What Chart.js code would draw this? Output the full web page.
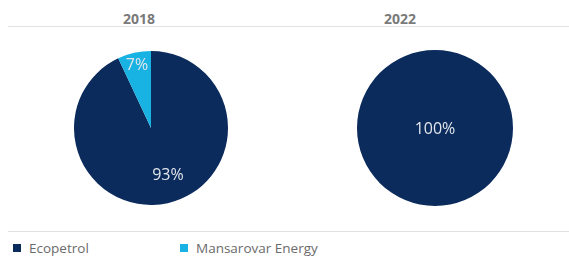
<!DOCTYPE html>
<html>
<head>
<meta charset="utf-8">
<script src="https://cdn.jsdelivr.net/npm/chart.js@4/dist/chart.umd.min.js"></script>
<style>
  body { margin: 0; background: #fff; font-family: "Open Sans", "Noto Sans", sans-serif; }
  #wrap { position: relative; width: 569px; height: 260px; overflow: hidden; }
  .year { position: absolute; top: 9px; font-size: 14px; font-weight: bold; color: #7a7a7a; width: 80px; text-align: center; }
  .rule { position: absolute; left: 8px; right: 0; height: 1px; background: #e2e2e2; }
  canvas { position: absolute; }
  .leg { position: absolute; top: 239px; font-size: 13.5px; color: #6b6b6b; }
  .leg span { display: inline-block; width: 8px; height: 8px; margin-right: 8px; vertical-align: 1px; }
</style>
</head>
<body>
<div id="wrap">
  <div class="year" id="year1" style="left:99px"></div>
  <div class="year" id="year2" style="left:360px"></div>
  <div class="rule" style="top:26px"></div>
  <canvas id="pie_2018" width="154" height="154" style="left:74px;top:51px"></canvas>
  <canvas id="pie_2022" width="156" height="156" style="left:357px;top:50px"></canvas>
  <div class="rule" style="top:231px"></div>
  <div class="leg" id="leg1" style="left:13px"></div>
  <div class="leg" id="leg2" style="left:180px"></div>
</div>
<script>
const years = ["2018", "2022"];
const companies = ["Ecopetrol", "Mansarovar Energy"];
const colors = ["#0b2b5c", "#18b2e3"];
const values2018 = [93, 7];
const values2022 = [100, 0];

const labelPlugin = {
  id: "sliceLabels",
  afterDatasetsDraw(chart) {
    const ctx = chart.ctx;
    const data = chart.data.datasets[0].data;
    chart.getDatasetMeta(0).data.forEach(function (arc, i) {
      let value = data[i];
      if (!value) return;
      let x, y;
      if (value == 100) {
        x = arc.x;
        y = arc.y + 1;
      } else {
        let mid = (arc.startAngle + arc.endAngle) / 2;
        // big slice label sits a bit off the bisector, like the original
        if (value > 50) mid -= 0.12;
        let d = value < 20 ? arc.outerRadius * 0.83 : arc.outerRadius * 0.66;
        x = arc.x + Math.cos(mid) * d;
        y = arc.y + Math.sin(mid) * d;
      }
      ctx.save();
      ctx.fillStyle = "#e2e6ec";
      ctx.font = "16px 'Open Sans', sans-serif";
      ctx.textAlign = "center";
      ctx.textBaseline = "middle";
      ctx.fillText(value + "%", x, y);
      ctx.restore();
    });
  },
};

function makePie(id, values) {
  return new Chart(document.getElementById(id), {
    type: "pie",
    data: {
      labels: companies,
      datasets: [{ data: values, backgroundColor: colors, borderWidth: 0 }],
    },
    options: {
      responsive: false,
      animation: false,
      layout: { padding: 0 },
      plugins: { legend: { display: false }, tooltip: { enabled: false } },
    },
    plugins: [labelPlugin],
  });
}

document.getElementById("year1").textContent = years[0];
document.getElementById("year2").textContent = years[1];
document.getElementById("leg1").innerHTML = '<span style="background:' + colors[0] + '"></span>' + companies[0];
document.getElementById("leg2").innerHTML = '<span style="background:' + colors[1] + '"></span>' + companies[1];

makePie("pie_2018", values2018);
makePie("pie_2022", values2022);
</script>
</body>
</html>
